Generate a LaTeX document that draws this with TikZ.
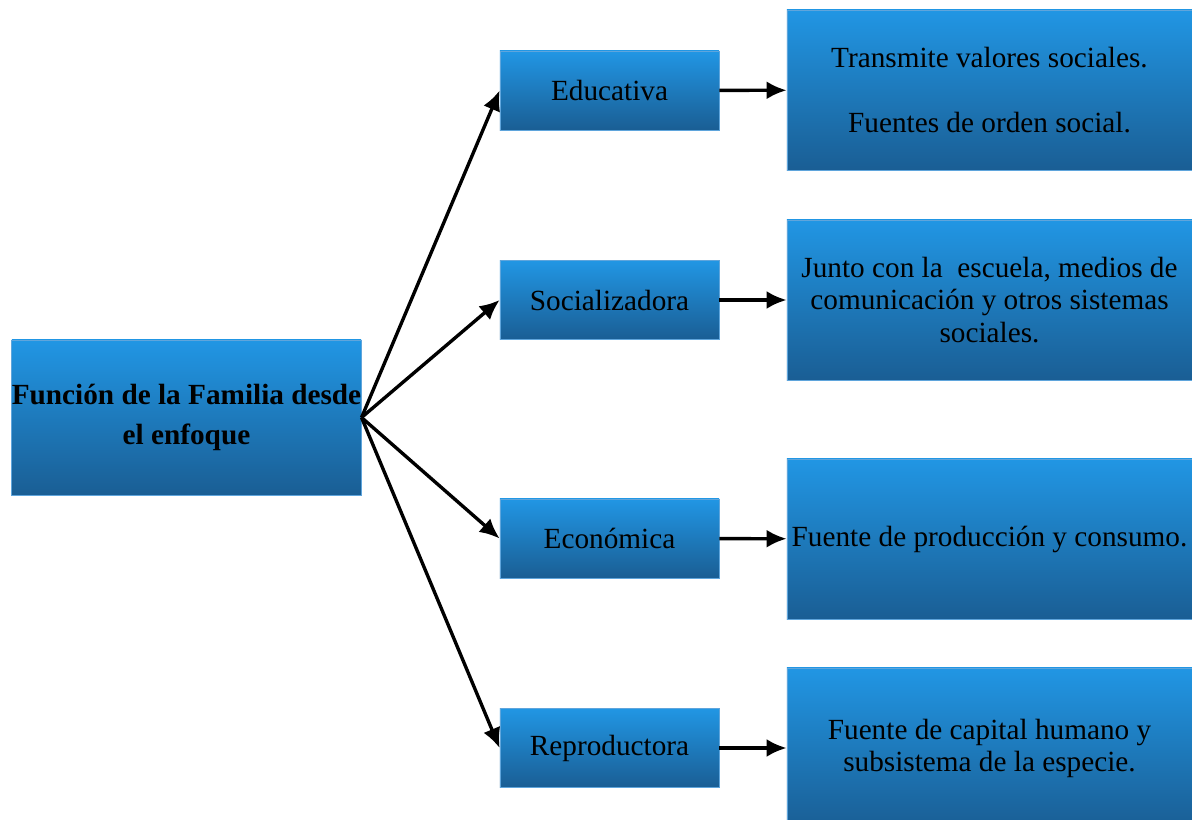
\documentclass[tikz,border=0pt]{standalone}
\usepackage{fontspec}
\setmainfont{Liberation Serif}
\usepackage{tikz}
\usetikzlibrary{positioning,arrows.meta}

\definecolor{boxtop}{RGB}{33,150,228}
\definecolor{boxbottom}{RGB}{26,94,148}
\definecolor{boxedge}{RGB}{95,165,220}

\begin{document}
\begin{tikzpicture}[x=0.025cm, y=-0.025cm,
box/.style={rectangle, draw=boxedge, line width=0.5pt, top color=boxtop, bottom color=boxbottom, align=center, inner sep=0pt, font=\fontsize{20.8}{22.8}\selectfont},
mainbox/.style={box, minimum width=8.725cm, minimum height=3.875cm, font=\fontsize{20.8}{28.5}\selectfont\bfseries},
midbox/.style={box, minimum width=5.475cm, minimum height=1.975cm},
infobox/.style={box, minimum width=10.125cm, minimum height=4cm},
link/.style={line width=2.4pt, -{Latex[length=0.5cm,width=0.45cm]}}]

\useasboundingbox (0,0) rectangle (1192,820);

\node[mainbox] (main) at (186.5,417.5) {Función de la Familia desde\\el enfoque};

\node[midbox] (edu) at (609.5,90.5) {Educativa};
\node[midbox] (soc) at (609.5,300) {Socializadora};
\node[midbox] (eco) at (609.5,538.5) {Económica};
\node[midbox] (rep) at (609.5,748) {Reproductora};

\node[infobox] (edui) at (989.5,90) {Transmite valores sociales.\\[24pt]Fuentes de orden social.};
\node[infobox] (soci) at (989.5,300) {Junto con la \ escuela, medios de\\comunicación y otros sistemas\\sociales.};
\node[infobox] (ecoi) at (989.5,539) {Fuente de producción y consumo.};
\node[infobox] (repi) at (989.5,748) {Fuente de capital humano y\\subsistema de la especie.};

\draw[link] (main.east) -- (edu.west);
\draw[link] (main.east) -- (soc.west);
\draw[link] (main.east) -- (eco.west);
\draw[link] (main.east) -- (rep.west);

\draw[link] (edu) -- (edui);
\draw[link] (soc) -- (soci);
\draw[link] (eco) -- (ecoi);
\draw[link] (rep) -- (repi);

\end{tikzpicture}
\end{document}
